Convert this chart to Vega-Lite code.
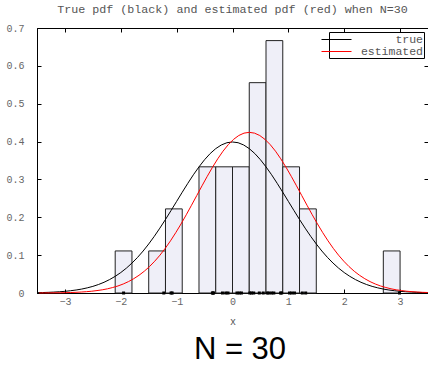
{
  "$schema": "https://vega.github.io/schema/vega-lite/v6.json",
  "padding": {"left": 5, "top": 3, "right": 0, "bottom": 0},
  "autosize": {"type": "pad"},
  "background": "white",
  "title": {"text": "N = 30", "orient": "bottom", "font": "Liberation Sans", "fontSize": 31, "fontWeight": "normal", "color": "black", "anchor": "middle", "offset": 8, "dx": 22},
  "config": {
    "view": {"stroke": "black", "strokeWidth": 1},
    "axis": {"grid": false, "domainColor": "black", "tickColor": "black", "labelColor": "#666", "labelFont": "Liberation Mono", "labelFontSize": 10, "titleFont": "Liberation Mono", "titleFontSize": 10, "titleFontWeight": "normal", "titleColor": "#555", "tickSize": -4, "domainWidth": 1, "tickWidth": 1}
  },
  "datasets": {
    "bins": [
      {"x0": -2.1, "x1": -1.8, "d": 0.1111},
      {"x0": -1.5, "x1": -1.2, "d": 0.1111},
      {"x0": -1.2, "x1": -0.9, "d": 0.2222},
      {"x0": -0.6, "x1": -0.3, "d": 0.3333},
      {"x0": -0.3, "x1": 0.0, "d": 0.3333},
      {"x0": 0.0, "x1": 0.3, "d": 0.3333},
      {"x0": 0.3, "x1": 0.6, "d": 0.5556},
      {"x0": 0.6, "x1": 0.9, "d": 0.6667},
      {"x0": 0.9, "x1": 1.2, "d": 0.3333},
      {"x0": 1.2, "x1": 1.5, "d": 0.2222},
      {"x0": 2.7, "x1": 3.0, "d": 0.1111}
    ],
    "rug": [
      {"v": -1.95}, {"v": -1.23}, {"v": -1.10}, {"v": -1.08},
      {"v": -0.36}, {"v": -0.35}, {"v": -0.34},
      {"v": -0.18}, {"v": -0.12}, {"v": -0.08},
      {"v": 0.08}, {"v": 0.12}, {"v": 0.16},
      {"v": 0.31}, {"v": 0.34}, {"v": 0.38}, {"v": 0.48}, {"v": 0.55},
      {"v": 0.62}, {"v": 0.65}, {"v": 0.70}, {"v": 0.74}, {"v": 0.86}, {"v": 0.88},
      {"v": 1.02}, {"v": 1.06}, {"v": 1.11},
      {"v": 1.25}, {"v": 1.31},
      {"v": 2.99}
    ],
    "curves": [
      {"s": "true", "x": -3.5, "y": 0.0009}, {"s": "true", "x": -3.4, "y": 0.0012}, {"s": "true", "x": -3.3, "y": 0.0017}, {"s": "true", "x": -3.2, "y": 0.0024}, {"s": "true", "x": -3.1, "y": 0.0033},
      {"s": "true", "x": -3.0, "y": 0.0044}, {"s": "true", "x": -2.9, "y": 0.0060}, {"s": "true", "x": -2.8, "y": 0.0079}, {"s": "true", "x": -2.7, "y": 0.0104}, {"s": "true", "x": -2.6, "y": 0.0136},
      {"s": "true", "x": -2.5, "y": 0.0175}, {"s": "true", "x": -2.4, "y": 0.0224}, {"s": "true", "x": -2.3, "y": 0.0283}, {"s": "true", "x": -2.2, "y": 0.0355}, {"s": "true", "x": -2.1, "y": 0.0440},
      {"s": "true", "x": -2.0, "y": 0.0540}, {"s": "true", "x": -1.9, "y": 0.0656}, {"s": "true", "x": -1.8, "y": 0.0790}, {"s": "true", "x": -1.7, "y": 0.0940}, {"s": "true", "x": -1.6, "y": 0.1109},
      {"s": "true", "x": -1.5, "y": 0.1295}, {"s": "true", "x": -1.4, "y": 0.1497}, {"s": "true", "x": -1.3, "y": 0.1714}, {"s": "true", "x": -1.2, "y": 0.1942}, {"s": "true", "x": -1.1, "y": 0.2179},
      {"s": "true", "x": -1.0, "y": 0.2420}, {"s": "true", "x": -0.9, "y": 0.2661}, {"s": "true", "x": -0.8, "y": 0.2897}, {"s": "true", "x": -0.7, "y": 0.3123}, {"s": "true", "x": -0.6, "y": 0.3332},
      {"s": "true", "x": -0.5, "y": 0.3521}, {"s": "true", "x": -0.4, "y": 0.3683}, {"s": "true", "x": -0.3, "y": 0.3814}, {"s": "true", "x": -0.2, "y": 0.3910}, {"s": "true", "x": -0.1, "y": 0.3970},
      {"s": "true", "x": 0.0, "y": 0.3989},
      {"s": "true", "x": 0.1, "y": 0.3970}, {"s": "true", "x": 0.2, "y": 0.3910}, {"s": "true", "x": 0.3, "y": 0.3814}, {"s": "true", "x": 0.4, "y": 0.3683}, {"s": "true", "x": 0.5, "y": 0.3521},
      {"s": "true", "x": 0.6, "y": 0.3332}, {"s": "true", "x": 0.7, "y": 0.3123}, {"s": "true", "x": 0.8, "y": 0.2897}, {"s": "true", "x": 0.9, "y": 0.2661}, {"s": "true", "x": 1.0, "y": 0.2420},
      {"s": "true", "x": 1.1, "y": 0.2179}, {"s": "true", "x": 1.2, "y": 0.1942}, {"s": "true", "x": 1.3, "y": 0.1714}, {"s": "true", "x": 1.4, "y": 0.1497}, {"s": "true", "x": 1.5, "y": 0.1295},
      {"s": "true", "x": 1.6, "y": 0.1109}, {"s": "true", "x": 1.7, "y": 0.0940}, {"s": "true", "x": 1.8, "y": 0.0790}, {"s": "true", "x": 1.9, "y": 0.0656}, {"s": "true", "x": 2.0, "y": 0.0540},
      {"s": "true", "x": 2.1, "y": 0.0440}, {"s": "true", "x": 2.2, "y": 0.0355}, {"s": "true", "x": 2.3, "y": 0.0283}, {"s": "true", "x": 2.4, "y": 0.0224}, {"s": "true", "x": 2.5, "y": 0.0175},
      {"s": "true", "x": 2.6, "y": 0.0136}, {"s": "true", "x": 2.7, "y": 0.0104}, {"s": "true", "x": 2.8, "y": 0.0079}, {"s": "true", "x": 2.9, "y": 0.0060}, {"s": "true", "x": 3.0, "y": 0.0044},
      {"s": "true", "x": 3.1, "y": 0.0033}, {"s": "true", "x": 3.2, "y": 0.0024}, {"s": "true", "x": 3.3, "y": 0.0017}, {"s": "true", "x": 3.4, "y": 0.0012}, {"s": "true", "x": 3.5, "y": 0.0009},
      {"s": "estimated", "x": -3.46, "y": 0.0001}, {"s": "estimated", "x": -3.366, "y": 0.0002}, {"s": "estimated", "x": -3.272, "y": 0.0003}, {"s": "estimated", "x": -3.178, "y": 0.0005}, {"s": "estimated", "x": -3.084, "y": 0.0006},
      {"s": "estimated", "x": -2.99, "y": 0.0009}, {"s": "estimated", "x": -2.896, "y": 0.0013}, {"s": "estimated", "x": -2.802, "y": 0.0018}, {"s": "estimated", "x": -2.708, "y": 0.0026}, {"s": "estimated", "x": -2.614, "y": 0.0035},
      {"s": "estimated", "x": -2.52, "y": 0.0047}, {"s": "estimated", "x": -2.426, "y": 0.0064}, {"s": "estimated", "x": -2.332, "y": 0.0084}, {"s": "estimated", "x": -2.238, "y": 0.0111}, {"s": "estimated", "x": -2.144, "y": 0.0145},
      {"s": "estimated", "x": -2.05, "y": 0.0186}, {"s": "estimated", "x": -1.956, "y": 0.0238}, {"s": "estimated", "x": -1.862, "y": 0.0301}, {"s": "estimated", "x": -1.768, "y": 0.0378}, {"s": "estimated", "x": -1.674, "y": 0.0468},
      {"s": "estimated", "x": -1.58, "y": 0.0574}, {"s": "estimated", "x": -1.486, "y": 0.0698}, {"s": "estimated", "x": -1.392, "y": 0.0840}, {"s": "estimated", "x": -1.298, "y": 0.1000}, {"s": "estimated", "x": -1.204, "y": 0.1180},
      {"s": "estimated", "x": -1.11, "y": 0.1378}, {"s": "estimated", "x": -1.016, "y": 0.1593}, {"s": "estimated", "x": -0.922, "y": 0.1823}, {"s": "estimated", "x": -0.828, "y": 0.2066}, {"s": "estimated", "x": -0.734, "y": 0.2318},
      {"s": "estimated", "x": -0.64, "y": 0.2574}, {"s": "estimated", "x": -0.546, "y": 0.2831}, {"s": "estimated", "x": -0.452, "y": 0.3082}, {"s": "estimated", "x": -0.358, "y": 0.3322}, {"s": "estimated", "x": -0.264, "y": 0.3545},
      {"s": "estimated", "x": -0.17, "y": 0.3746}, {"s": "estimated", "x": -0.076, "y": 0.3918}, {"s": "estimated", "x": 0.018, "y": 0.4057}, {"s": "estimated", "x": 0.112, "y": 0.4160}, {"s": "estimated", "x": 0.206, "y": 0.4223},
      {"s": "estimated", "x": 0.3, "y": 0.4244},
      {"s": "estimated", "x": 0.394, "y": 0.4223}, {"s": "estimated", "x": 0.488, "y": 0.4160}, {"s": "estimated", "x": 0.582, "y": 0.4057}, {"s": "estimated", "x": 0.676, "y": 0.3918}, {"s": "estimated", "x": 0.77, "y": 0.3746},
      {"s": "estimated", "x": 0.864, "y": 0.3545}, {"s": "estimated", "x": 0.958, "y": 0.3322}, {"s": "estimated", "x": 1.052, "y": 0.3082}, {"s": "estimated", "x": 1.146, "y": 0.2831}, {"s": "estimated", "x": 1.24, "y": 0.2574},
      {"s": "estimated", "x": 1.334, "y": 0.2318}, {"s": "estimated", "x": 1.428, "y": 0.2066}, {"s": "estimated", "x": 1.522, "y": 0.1823}, {"s": "estimated", "x": 1.616, "y": 0.1593}, {"s": "estimated", "x": 1.71, "y": 0.1378},
      {"s": "estimated", "x": 1.804, "y": 0.1180}, {"s": "estimated", "x": 1.898, "y": 0.1000}, {"s": "estimated", "x": 1.992, "y": 0.0840}, {"s": "estimated", "x": 2.086, "y": 0.0698}, {"s": "estimated", "x": 2.18, "y": 0.0574},
      {"s": "estimated", "x": 2.274, "y": 0.0468}, {"s": "estimated", "x": 2.368, "y": 0.0378}, {"s": "estimated", "x": 2.462, "y": 0.0301}, {"s": "estimated", "x": 2.556, "y": 0.0238}, {"s": "estimated", "x": 2.65, "y": 0.0186},
      {"s": "estimated", "x": 2.744, "y": 0.0145}, {"s": "estimated", "x": 2.838, "y": 0.0111}, {"s": "estimated", "x": 2.932, "y": 0.0084}, {"s": "estimated", "x": 3.026, "y": 0.0064}, {"s": "estimated", "x": 3.12, "y": 0.0047},
      {"s": "estimated", "x": 3.214, "y": 0.0035}, {"s": "estimated", "x": 3.308, "y": 0.0026}, {"s": "estimated", "x": 3.402, "y": 0.0018}, {"s": "estimated", "x": 3.496, "y": 0.0013}
    ]
  },
  "vconcat": [
    {
      "width": 391,
      "height": 265,
      "title": {"text": "True pdf (black) and estimated pdf (red) when N=30", "font": "Liberation Mono", "fontSize": 11.7, "fontWeight": "normal", "color": "#555", "anchor": "middle", "frame": "group", "offset": 7},
      "layer": [
        {
          "data": {"name": "bins"},
          "mark": {"type": "rect", "fill": "#efeff8", "stroke": "#222", "strokeWidth": 1},
          "encoding": {
            "x": {"field": "x0", "type": "quantitative", "scale": {"domain": [-3.5, 3.5], "nice": false, "zero": false},
                  "axis": {"orient": "bottom", "values": [-3, -2, -1, 0, 1, 2, 3], "title": "x", "labelPadding": 7, "titlePadding": 10}},
            "x2": {"field": "x1"},
            "y": {"field": "d", "type": "quantitative", "scale": {"domain": [0, 0.7], "nice": false},
                  "axis": {"orient": "left", "values": [0, 0.1, 0.2, 0.3, 0.4, 0.5, 0.6, 0.7], "format": "~g", "title": null, "labelPadding": 17}},
            "y2": {"datum": 0}
          }
        },
        {
          "data": {"name": "curves"},
          "mark": {"type": "line", "strokeWidth": 1},
          "encoding": {
            "x": {"field": "x", "type": "quantitative", "axis": null},
            "y": {"field": "y", "type": "quantitative", "axis": null},
            "color": {"field": "s", "type": "nominal", "scale": {"domain": ["true", "estimated"], "range": ["black", "red"]},
                      "legend": {"title": null, "orient": "top-right", "offset": 4, "strokeColor": "black", "fillColor": "white", "padding": 1, "symbolType": "M-2.5,0H2.5", "symbolSize": 144, "symbolStrokeWidth": 1, "labelFont": "Liberation Mono", "labelFontSize": 11.5, "labelColor": "#555", "labelAlign": "right", "labelOffset": 80, "rowPadding": 0, "cornerRadius": 0}}
          }
        },
        {
          "data": {"name": "rug"},
          "mark": {"type": "point", "shape": "square", "filled": true, "size": 9, "color": "black", "opacity": 1},
          "encoding": {
            "x": {"field": "v", "type": "quantitative", "axis": {"orient": "top", "values": [-3, -2, -1, 0, 1, 2, 3], "labels": false, "title": null, "domain": false, "maxExtent": 0, "minExtent": 0}},
            "y": {"datum": 0, "type": "quantitative", "axis": {"orient": "right", "values": [0, 0.1, 0.2, 0.3, 0.4, 0.5, 0.6, 0.7], "labels": false, "title": null, "domain": false, "maxExtent": 0, "minExtent": 0}}
          }
        }
      ]
    }
  ]
}
